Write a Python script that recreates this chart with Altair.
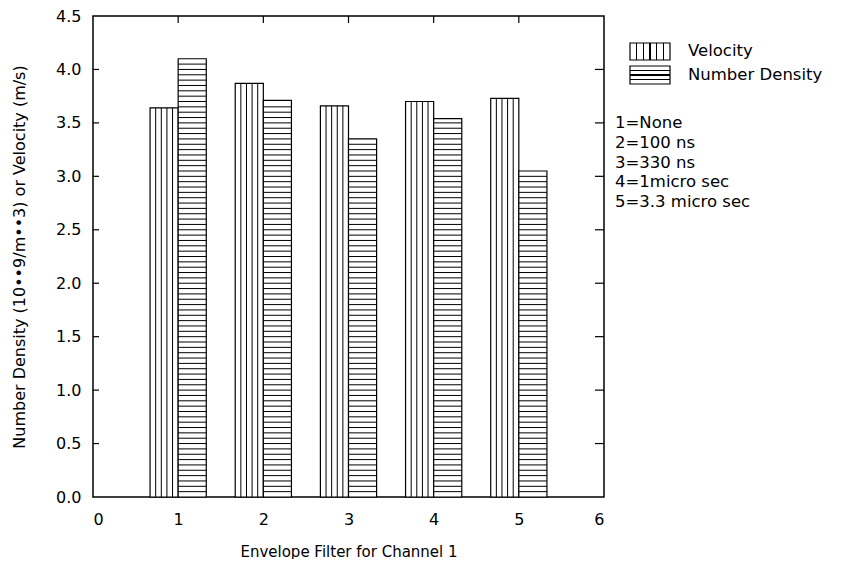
import altair as alt
import pandas as pd

# ---- data ----
categories = [1, 2, 3, 4, 5]
velocity = [3.64, 3.87, 3.66, 3.70, 3.73]
number_density = [4.10, 3.71, 3.35, 3.54, 3.05]
x_ticks = [0, 1, 2, 3, 4, 5, 6]
y_ticks = [0.0, 0.5, 1.0, 1.5, 2.0, 2.5, 3.0, 3.5, 4.0, 4.5]
series_labels = ["Velocity", "Number Density"]
filter_notes = ["1=None", "2=100 ns", "3=330 ns", "4=1micro sec", "5=3.3 micro sec"]

W, H = 511, 481
BW = 0.33
FONT = "DejaVu Sans"

df = pd.DataFrame({"cat": categories, "vel": velocity, "nd": number_density})

xs = alt.Scale(domain=[0, 6], nice=False, zero=False)
ys = alt.Scale(domain=[0, 4.5], nice=False)

base = alt.Chart(df)

x_axis = alt.Axis(values=x_ticks, format="d", ticks=False, domain=False, grid=False,
                  labelPadding=14, labelFontSize=16, labelFont=FONT,
                  title="Envelope Filter for Channel 1", titleFontSize=15,
                  titlePadding=17, titleFont=FONT, titleFontWeight="normal")
y_axis = alt.Axis(values=y_ticks, format=".1f", ticks=False, domain=False, grid=False,
                  labelPadding=12, labelFontSize=16, labelFont=FONT,
                  title="Number Density (10\u2022\u20229/m\u2022\u20223) or Velocity (m/s)",
                  titleFontSize=16, titlePadding=28, titleFont=FONT,
                  titleFontWeight="normal")


def X(field):
    return alt.X(field, scale=xs, axis=x_axis)


def Y(field):
    return alt.Y(field, scale=ys, axis=y_axis)


vel_bars = base.transform_calculate(x0=f"datum.cat - {BW}").mark_bar(
    fill="white", stroke="black", strokeWidth=1.2
).encode(x=X("x0:Q"), x2="cat:Q", y=Y("vel:Q"), y2=alt.datum(0))

nd_bars = base.transform_calculate(x1=f"datum.cat + {BW}").mark_bar(
    fill="white", stroke="black", strokeWidth=1.2
).encode(x=X("cat:Q"), x2="x1:Q", y=Y("nd:Q"), y2=alt.datum(0))

vel_hatch = base.transform_calculate(k="sequence(1, 5)").transform_flatten(["k"]).transform_calculate(
    hx=f"datum.cat - {BW} + datum.k * {BW} / 5"
).mark_rule(color="black", strokeWidth=1).encode(x=X("hx:Q"), y=Y("vel:Q"), y2=alt.datum(0))

nd_hatch = base.transform_calculate(h="sequence(0.05, datum.nd - 0.02, 0.05)").transform_flatten(["h"]).transform_calculate(
    xe=f"datum.cat + {BW}"
).mark_rule(color="black", strokeWidth=1).encode(x=X("cat:Q"), x2="xe:Q", y=Y("h:Q"))

# inward tick marks
ytick_df = pd.DataFrame({"v": y_ticks[1:-1]})
xtick_df = pd.DataFrame({"v": x_ticks[1:-1]})
left_ticks = alt.Chart(ytick_df).mark_rule(color="black", strokeWidth=1.2).encode(
    y=Y("v:Q"), x=alt.value(0), x2=alt.value(6))
right_ticks = alt.Chart(ytick_df).mark_rule(color="black", strokeWidth=1.2).encode(
    y=Y("v:Q"), x=alt.value(W - 9), x2=alt.value(W))
top_ticks = alt.Chart(xtick_df).mark_rule(color="black", strokeWidth=1.2).encode(
    x=X("v:Q"), y=alt.value(0), y2=alt.value(7))


# legend swatches (striped gradients)
def stripes(n, lw):
    stops = [alt.GradientStop(offset=0, color="white")]
    for i in range(1, n):
        c = i / n
        stops += [
            alt.GradientStop(offset=c - lw / 2, color="white"),
            alt.GradientStop(offset=c - lw / 2, color="black"),
            alt.GradientStop(offset=c + lw / 2, color="black"),
            alt.GradientStop(offset=c + lw / 2, color="white"),
        ]
    stops.append(alt.GradientStop(offset=1, color="white"))
    return stops


one = alt.Data(values=[{"a": 1}])
sw_vert = alt.Chart(one).mark_rect(
    stroke="black", strokeWidth=1.2,
    fill=alt.Gradient(gradient="linear", x1=0, x2=1, y1=0, y2=0, stops=stripes(6, 0.03)),
).encode(x=alt.value(537), x2=alt.value(577), y=alt.value(27), y2=alt.value(44))
sw_horiz = alt.Chart(one).mark_rect(
    stroke="black", strokeWidth=1.2,
    fill=alt.Gradient(gradient="linear", x1=0, x2=0, y1=0, y2=1, stops=stripes(4, 0.07)),
).encode(x=alt.value(537), x2=alt.value(577), y=alt.value(50), y2=alt.value(68))

leg_df = pd.DataFrame({"label": series_labels, "i": list(range(len(series_labels)))})
leg_text = alt.Chart(leg_df).transform_calculate(py="35 + datum.i * 24").mark_text(
    align="left", baseline="middle", font=FONT, fontSize=16.5, color="black"
).encode(x=alt.value(595), y=alt.Y("py:Q", scale=None), text="label:N")

notes_df = pd.DataFrame({"label": filter_notes, "i": list(range(len(filter_notes)))})
notes_text = alt.Chart(notes_df).transform_calculate(py="107 + datum.i * 19.8").mark_text(
    align="left", baseline="middle", font=FONT, fontSize=16.5, color="black"
).encode(x=alt.value(522), y=alt.Y("py:Q", scale=None), text="label:N")

chart = alt.layer(
    vel_bars, nd_bars, vel_hatch, nd_hatch,
    left_ticks, right_ticks, top_ticks,
    sw_vert, sw_horiz, leg_text, notes_text,
).properties(
    width=W, height=H,
    autosize=alt.AutoSizeParams(type="none"),
    padding={"left": 85, "top": 8, "right": 245, "bottom": 62},
).configure_view(
    stroke="black", strokeWidth=1.5
).configure_axis(
    labelColor="black", titleColor="black"
)

chart.save("out.html", embed_options={"renderer": "svg", "actions": False})
